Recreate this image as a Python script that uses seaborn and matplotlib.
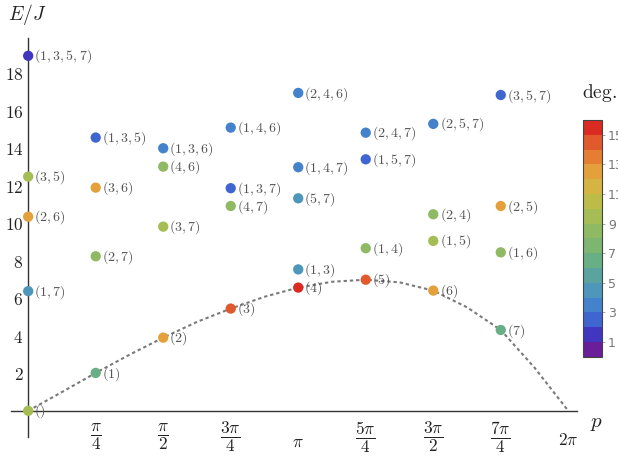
import numpy as np
import pandas as pd
import matplotlib
matplotlib.use('Agg')
import matplotlib.pyplot as plt
from matplotlib.colors import ListedColormap, Normalize
from matplotlib.cm import ScalarMappable
import seaborn as sns

# states: momentum index (p = k * pi/4), energy E/J, degree, label
state_k = [0, 0, 0, 0, 0,
           1, 1, 1, 1,
           2, 2, 2, 2,
           3, 3, 3, 3,
           4, 4, 4, 4, 4,
           5, 5, 5, 5,
           6, 6, 6, 6,
           7, 7, 7, 7]
state_E = [0.0, 6.38, 10.35, 12.49, 18.93,
           2.02, 8.24, 11.90, 14.57,
           3.90, 9.82, 13.02, 14.00,
           5.45, 10.92, 11.87, 15.10,
           6.57, 7.54, 11.33, 12.99, 16.95,
           6.99, 8.67, 13.41, 14.83,
           6.41, 9.06, 10.48, 15.30,
           4.31, 8.45, 10.92, 16.84]
state_deg = [9, 4, 12, 9, 1,
             6, 8, 12, 2,
             12, 9, 8, 3,
             14, 8, 2, 3,
             15, 4, 4, 3, 3,
             14, 8, 2, 3,
             12, 9, 8, 3,
             6, 8, 12, 2]
state_labels = ['()', '(1,7)', '(2,6)', '(3,5)', '(1,3,5,7)',
                '(1)', '(2,7)', '(3,6)', '(1,3,5)',
                '(2)', '(3,7)', '(4,6)', '(1,3,6)',
                '(3)', '(4,7)', '(1,3,7)', '(1,4,6)',
                '(4)', '(1,3)', '(5,7)', '(1,4,7)', '(2,4,6)',
                '(5)', '(1,4)', '(1,5,7)', '(2,4,7)',
                '(6)', '(1,5)', '(2,4)', '(2,5,7)',
                '(7)', '(1,6)', '(2,5)', '(3,5,7)']

# dashed dispersion curve, read at p = k * pi/8
curve_k = list(range(17))
curve_E = [0.0, 1.0, 2.02, 2.99, 3.90, 4.74, 5.45, 6.08, 6.57,
           6.88, 6.99, 6.85, 6.41, 5.52, 4.31, 2.3, 0.0]

# colour bands of the degree scale, 0..16 (bottom to top)
band_colors = ['#6a1e98', '#4036c0', '#3f66d0', '#4582cc', '#4e96ba',
               '#5aa39e', '#69af86', '#7db671', '#8fba63', '#a6bd55',
               '#bdbc49', '#d5b443', '#e3a03b', '#e57e33', '#e05a2e',
               '#da2a22']

xtick_k = [1, 2, 3, 4, 5, 6, 7, 8]
xtick_labels = [r'$\dfrac{\pi}{4}$', r'$\dfrac{\pi}{2}$', r'$\dfrac{3\pi}{4}$', r'$\pi$',
                r'$\dfrac{5\pi}{4}$', r'$\dfrac{3\pi}{2}$', r'$\dfrac{7\pi}{4}$', r'$2\pi$']
ytick_vals = [2, 4, 6, 8, 10, 12, 14, 16, 18]
cbar_ticks = [1, 3, 5, 7, 9, 11, 13, 15]

sns.set_style('white')
plt.rcParams['mathtext.fontset'] = 'cm'
plt.rcParams['font.family'] = ['DejaVu Sans']

states = pd.DataFrame({
    'p': np.array(state_k) * np.pi / 4,
    'E': state_E,
    'deg': state_deg,
    'label': state_labels,
})
curve = pd.DataFrame({'p': np.array(curve_k) * np.pi / 8, 'E': curve_E})

cmap = ListedColormap(band_colors)
norm = Normalize(0, 16)

fig = plt.figure(figsize=(6.18, 4.62), dpi=100)
ax = fig.add_axes([0.0178, 0.0548, 0.9159, 0.863])

sns.lineplot(data=curve, x='p', y='E', ax=ax, color='#7a7a7a', lw=1.5,
             linestyle=(0, (1.6, 1.4)), zorder=2)
sns.scatterplot(data=states, x='p', y='E', hue='deg', palette=cmap, hue_norm=norm,
                s=55, linewidth=0, legend=False, ax=ax, zorder=3)

for _, row in states.iterrows():
    ax.annotate(f'${row["label"]}$', (row['p'], row['E']), xytext=(4.5, -0.5),
                textcoords='offset points', ha='left', va='center',
                fontsize=10, color='#555555', zorder=4)

ax.set_xlim(-0.20, 6.385)
ax.set_ylim(-1.38, 19.88)

for side in ['top', 'right']:
    ax.spines[side].set_visible(False)
for side in ['left', 'bottom']:
    ax.spines[side].set_position(('data', 0))
    ax.spines[side].set_color('#333333')
    ax.spines[side].set_linewidth(1.0)

ax.set_xticks(np.array(xtick_k) * np.pi / 4, labels=xtick_labels, va='center')
ax.set_yticks(ytick_vals, labels=[f'${v}$' for v in ytick_vals])
ax.tick_params(axis='both', direction='in', length=4.5, width=0.9, color='#333333',
               labelcolor='#222222', labelsize=12.5)
ax.tick_params(axis='y', pad=3.5)
ax.tick_params(axis='x', pad=18.9)
xticks = ax.xaxis.get_major_ticks()
xticks[3].set_pad(22.4)
xticks[7].set_pad(21.0)

ax.set_xlabel('$p$', fontsize=15, color='#222222')
ax.xaxis.set_label_coords(1.035, 0.059)
ax.set_ylabel('$E/J$', fontsize=14, color='#222222', rotation=0, ha='center', va='center')
ax.yaxis.set_label_coords(0.028, 1.06)

cax = fig.add_axes([583 / 618, (462 - 356.7) / 462, 18.7 / 618, 236.7 / 462])
cb = fig.colorbar(ScalarMappable(norm=norm, cmap=cmap), cax=cax, ticks=cbar_ticks)
cb.ax.tick_params(labelsize=9, length=2.5, width=0.6, color='#999999',
                  labelcolor='#777777', pad=2)
cb.outline.set_edgecolor('#444444')
cb.outline.set_linewidth(0.8)
fig.text(582 / 618, 1 - 93 / 462, r'$\mathrm{deg.}$', fontsize=14, color='#222222',
         ha='left', va='center')

fig.savefig('out.png', dpi=100)
